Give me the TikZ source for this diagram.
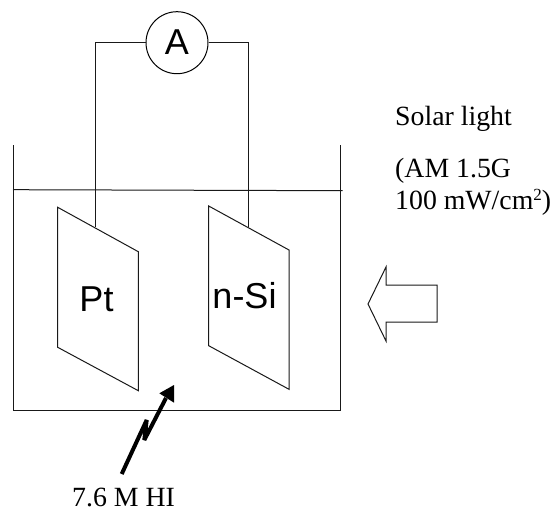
\documentclass[tikz,border=0pt]{standalone}
\usepackage{fontspec}
\setmainfont{Liberation Serif}
\newfontfamily\labelfont{Liberation Sans}
\tikzset{
  wire/.style={line width=1pt, black!90},
  plate/.style={line width=1pt, black!90},
  bigtext/.style={font=\labelfont\fontsize{36}{36}\selectfont, inner sep=0pt, anchor=base},
  sidetext/.style={font=\fontsize{27.8}{27.8}\selectfont, inner sep=0pt, anchor=base west}
}
\begin{document}
\begin{tikzpicture}[x=1pt,y=-1pt]
        \useasboundingbox (0,0) rectangle (557,511);

        % Ammeter and its wires
        \node[draw, circle, line width=1pt, minimum size=62pt, inner sep=0pt, font=\labelfont\fontsize{36}{36}\selectfont] (ammeter) at (177,42.7) {\raisebox{2pt}{A}};
        \coordinate (wire-left) at (95.5,42.7);
        \coordinate (wire-right) at (248.7,42.7);
        \coordinate (pt-top) at (95.5,227);
        \coordinate (si-top) at (248.7,227);
        \draw[wire] (ammeter) -- (wire-left) -- (pt-top);
        \draw[wire] (ammeter) -- (wire-right) -- (si-top);

        % Beaker
        \draw[wire] (13.7,145) -- (13.7,410.5) -- (340,410.5) -- (340,145);
        \draw[wire] (13,189.7) -- (342.7,190.7);

        % Electrodes
        \draw[plate] (57.7,207.3) -- (138.3,251.7) -- (138.3,390.7) -- (57.7,347.3) -- cycle;
        \draw[plate] (208.7,206) -- (289,250) -- (289,389.3) -- (208.7,345.7) -- cycle;
        \node[bigtext] (pt-label) at (96.5,311) {Pt};
        \node[bigtext] (si-label) at (244.5,308) {n-Si};

        % Solar light
        \node[sidetext] (solar) at (395,125) {Solar light};
        \node[sidetext] (am) at (395,177) {(AM 1.5G};
        \node[sidetext] (power) at (395,209.3) {100 mW/cm\raisebox{0.33em}{\fontsize{17}{17}\selectfont 2})};
        \draw[plate] (368,304) -- (386,267) -- (386,285) -- (437,285) -- (437,322) -- (386,322) -- (386,341) -- cycle;

        % Electrolyte label and zigzag
        \node[sidetext] (hi) at (72,506) {7.6 M HI};
        \coordinate (zig-start) at (121.7,474);
        \draw[line width=4pt, miter limit=1] (zig-start) -- (146.7,420) -- (144.3,440) -- (166,398);
        \fill (174,385) -- (159.3,393.3) -- (174,402.7) -- cycle;
\end{tikzpicture}
\end{document}
